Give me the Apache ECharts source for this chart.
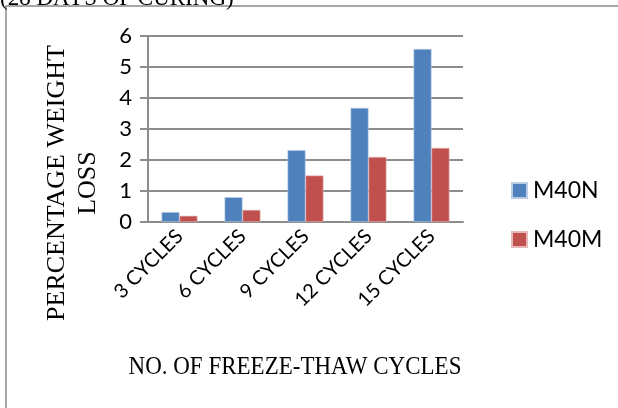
<!DOCTYPE html>
<html>
<head>
<meta charset="utf-8">
<script src="https://cdn.jsdelivr.net/npm/echarts@6/dist/echarts.min.js"></script>
<style>
  html, body { margin: 0; padding: 0; background: #fff; }
  #chart { width: 618px; height: 408px; }
</style>
</head>
<body>
<div id="chart"></div>
<script>
// Weight loss after freeze-thaw cycling (28 days of curing)
const categories = ['3 CYCLES', '6 CYCLES', '9 CYCLES', '12 CYCLES', '15 CYCLES'];
const m40n = [0.32, 0.80, 2.32, 3.68, 5.58];
const m40m = [0.20, 0.39, 1.50, 2.10, 2.39];
const yTicks = [0, 1, 2, 3, 4, 5, 6];

const serif = '"Liberation Serif", "Times New Roman", serif';
const sans = 'Lato, "Open Sans", sans-serif';
const gridGray = '#8c8c8c';

const chart = echarts.init(document.getElementById('chart'), null, { renderer: 'canvas' });

chart.setOption({
  animation: false,
  backgroundColor: '#ffffff',
  grid: { left: 148, right: 155, top: 36, bottom: 186, containLabel: false },
  legend: {
    orient: 'vertical',
    left: 506,
    top: 174,
    itemWidth: 15,
    itemHeight: 15,
    itemGap: 26,
    icon: 'rect',
    textStyle: { fontFamily: sans, fontSize: 23, color: '#000', padding: [0, 0, 0, 1] },
    data: ['M40N', 'M40M']
  },
  xAxis: {
    type: 'category',
    data: categories,
    axisLine: { show: true, lineStyle: { color: gridGray, width: 2 } },
    axisTick: { show: false },
    axisLabel: {
      rotate: 45,
      interval: 0,
      margin: 11,
      fontFamily: sans,
      fontSize: 20,
      color: '#000'
    }
  },
  yAxis: {
    type: 'value',
    min: yTicks[0],
    max: yTicks[yTicks.length - 1],
    interval: 1,
    axisLine: { show: true, lineStyle: { color: gridGray, width: 2 } },
    axisTick: { show: true, inside: false, length: 8, lineStyle: { color: gridGray, width: 2 } },
    splitLine: { show: true, lineStyle: { color: gridGray, width: 2 } },
    axisLabel: {
      margin: 16,
      fontFamily: sans,
      fontSize: 22,
      color: '#000'
    }
  },
  series: [
    {
      name: 'M40N',
      type: 'bar',
      data: m40n,
      barGap: '0%',
      barCategoryGap: '43%',
      itemStyle: { color: '#4f81bd', borderColor: '#b9cde5', borderWidth: 0.6 }
    },
    {
      name: 'M40M',
      type: 'bar',
      data: m40m,
      itemStyle: { color: '#c0504d', borderColor: '#e6b9b8', borderWidth: 0.6 }
    }
  ],
  graphic: [
    {
      type: 'rect',
      shape: { x: 6, y: 6, width: 640, height: 440 },
      style: { fill: null, stroke: '#8a8a8a', lineWidth: 1.5 },
      silent: true
    },
    {
      type: 'text',
      x: 0,
      y: 10,
      style: {
        text: '(28 DAYS OF CURING)',
        font: '23px ' + serif,
        fill: '#000',
        textAlign: 'left',
        textVerticalAlign: 'bottom'
      },
      silent: true
    },
    {
      type: 'text',
      x: 73,
      y: 183,
      rotation: Math.PI / 2,
      style: {
        text: 'PERCENTAGE WEIGHT\nLOSS',
        font: '26px ' + serif,
        lineHeight: 31,
        fill: '#000',
        textAlign: 'center',
        textVerticalAlign: 'middle'
      },
      silent: true
    },
    {
      type: 'text',
      x: 295,
      y: 367,
      scaleY: 1.12,
      style: {
        text: 'NO. OF FREEZE-THAW CYCLES',
        font: '23px ' + serif,
        fill: '#000',
        textAlign: 'center',
        textVerticalAlign: 'middle'
      },
      silent: true
    }
  ]
});
</script>
</body>
</html>
